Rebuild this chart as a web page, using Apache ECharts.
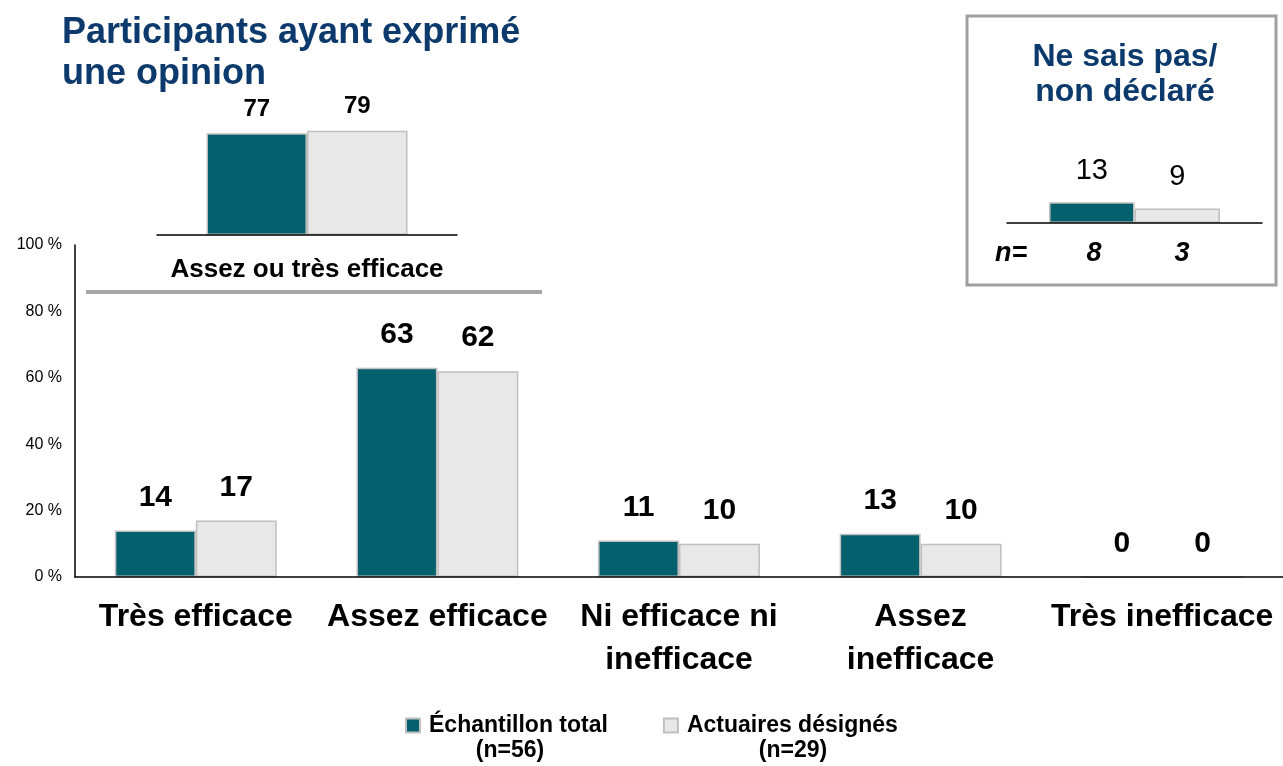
<!DOCTYPE html>
<html>
<head>
<meta charset="utf-8">
<script src="https://cdn.jsdelivr.net/npm/echarts@6/dist/echarts.min.js"></script>
<style>
  html, body { margin: 0; padding: 0; background: #fff; }
  #chart { width: 1283px; height: 766px; }
</style>
</head>
<body>
<div id="chart"></div>
<script>
var categories = ['Très efficace', 'Assez efficace', 'Ni efficace ni\ninefficace', 'Assez\ninefficace', 'Très inefficace'];
var totalValues = [14, 63, 11, 13, 0];
var actuairesValues = [17, 62, 10, 10, 0];
var yTicks = [0, 20, 40, 60, 80, 100];

var opinionCategory = ['Assez ou très efficace'];
var opinionTotal = [77];
var opinionActuaires = [79];

var nspCategory = ['Ne sais pas/non déclaré'];
var nspTotal = [13];
var nspActuaires = [9];
var nspCounts = [8, 3];

var seriesNames = ['Échantillon total', 'Actuaires désignés'];
var seriesN = ['(n=56)', '(n=29)'];

var teal = '#03606C';
var light = '#E8E8E8';
var edge = '#BFBFBF';
var navy = '#0D3A6C';
var font = 'Liberation Sans, Arial, sans-serif';

var chart = echarts.init(document.getElementById('chart'));

function barSeries(name, data, color, xi, size, dist, weight) {
    return {
        name: name,
        type: 'bar',
        xAxisIndex: xi,
        yAxisIndex: xi,
        data: data,
        barGap: '0%',
        barCategoryGap: '33%',
        itemStyle: { color: color, borderColor: edge, borderWidth: 1.5 },
        label: {
            show: true,
            position: 'top',
            distance: dist,
            fontFamily: font,
            fontSize: size,
            fontWeight: weight,
            color: '#000'
        },
        emphasis: { disabled: true },
        animation: false
    };
}

var hiddenY = function (gi) {
    return { gridIndex: gi, type: 'value', min: 0, max: 100, show: false };
};

var option = {
    backgroundColor: '#fff',
    textStyle: { fontFamily: font },
    title: [{
        text: 'Participants ayant exprimé\nune opinion',
        left: 62,
        top: 13,
        padding: 0,
        textStyle: { fontFamily: font, fontSize: 36, fontWeight: 'bold', color: navy, lineHeight: 41 }
    }, {
        text: 'Ne sais pas/\nnon déclaré',
        left: 1125,
        textAlign: 'center',
        top: 40,
        padding: 0,
        textStyle: { fontFamily: font, fontSize: 32, fontWeight: 'bold', color: navy, lineHeight: 35 }
    }],
    legend: {
        left: 405,
        top: 714,
        padding: 0,
        itemWidth: 14,
        itemHeight: 14,
        itemGap: 55,
        icon: 'rect',
        data: seriesNames,
        textStyle: { fontFamily: font, fontSize: 23, fontWeight: 'bold', color: '#000', padding: [0, 0, 0, 4] },
        selectedMode: false
    },
    grid: [
        { left: 75, top: 245, width: 1215, height: 332 },
        { left: 157, top: 103, width: 300, height: 132 },
        { left: 1007, top: 63, width: 255, height: 160 }
    ],
    xAxis: [{
        gridIndex: 0,
        type: 'category',
        data: categories,
        z: 5,
        axisLine: { lineStyle: { color: '#000', width: 1.5 } },
        axisTick: { show: false },
        axisLabel: {
            margin: 19,
            fontFamily: font,
            fontSize: 32,
            fontWeight: 'bold',
            color: '#000',
            lineHeight: 43,
            interval: 0
        }
    }, {
        gridIndex: 1,
        type: 'category',
        data: opinionCategory,
        z: 5,
        axisLine: { lineStyle: { color: '#000', width: 1.5 } },
        axisTick: { show: false },
        axisLabel: { show: false }
    }, {
        gridIndex: 2,
        type: 'category',
        data: nspCategory,
        z: 5,
        axisLine: { lineStyle: { color: '#000', width: 1.5 } },
        axisTick: { show: false },
        axisLabel: { show: false }
    }],
    yAxis: [{
        gridIndex: 0,
        type: 'value',
        min: yTicks[0],
        max: yTicks[yTicks.length - 1],
        interval: 20,
        axisLine: { show: true, lineStyle: { color: '#000', width: 1.5 } },
        axisTick: { show: false },
        splitLine: { show: false },
        axisLabel: {
            margin: 13,
            fontFamily: font,
            fontSize: 16,
            color: '#000',
            formatter: '{value} %'
        }
    }, hiddenY(1), hiddenY(2)],
    series: [
        barSeries(seriesNames[0], totalValues, teal, 0, 30, 18, 'bold'),
        barSeries(seriesNames[1], actuairesValues, light, 0, 30, 18, 'bold'),
        barSeries(seriesNames[0], opinionTotal, teal, 1, 24, 12, 'bold'),
        barSeries(seriesNames[1], opinionActuaires, light, 1, 24, 12, 'bold'),
        barSeries(seriesNames[0], nspTotal, teal, 2, 29, 17, 'normal'),
        barSeries(seriesNames[1], nspActuaires, light, 2, 29, 17, 'normal')
    ],
    graphic: [{
        type: 'rect',
        shape: { x: 967, y: 16, width: 309, height: 269 },
        style: { fill: 'none', stroke: '#A0A0A0', lineWidth: 3 }
    }, {
        type: 'line',
        shape: { x1: 86, y1: 292, x2: 542, y2: 292 },
        style: { stroke: '#A6A6A6', lineWidth: 4 }
    }, {
        type: 'text',
        x: 307, y: 270,
        style: { text: opinionCategory[0], font: 'bold 26px ' + font, fill: '#000', align: 'center', verticalAlign: 'middle' }
    }, {
        type: 'text',
        x: 995, y: 254,
        style: { text: 'n=', font: 'italic bold 27px ' + font, fill: '#000', align: 'left', verticalAlign: 'middle' }
    }, {
        type: 'text',
        x: 1094, y: 254,
        style: { text: String(nspCounts[0]), font: 'italic bold 27px ' + font, fill: '#000', align: 'center', verticalAlign: 'middle' }
    }, {
        type: 'text',
        x: 1182, y: 254,
        style: { text: String(nspCounts[1]), font: 'italic bold 27px ' + font, fill: '#000', align: 'center', verticalAlign: 'middle' }
    }, {
        type: 'text',
        x: 510, y: 751,
        style: { text: seriesN[0], font: 'bold 23px ' + font, fill: '#000', align: 'center', verticalAlign: 'middle' }
    }, {
        type: 'text',
        x: 793, y: 751,
        style: { text: seriesN[1], font: 'bold 23px ' + font, fill: '#000', align: 'center', verticalAlign: 'middle' }
    }]
};

chart.setOption(option);
</script>
</body>
</html>
